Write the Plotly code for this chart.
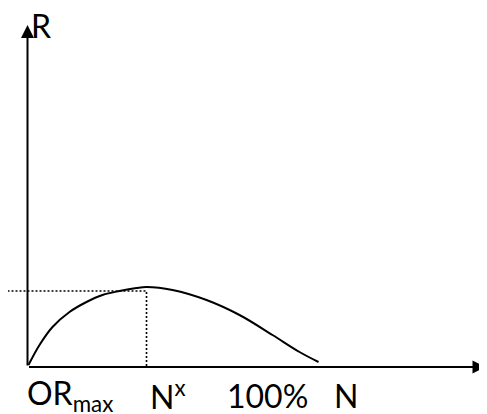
import plotly.graph_objects as go

# Curve R(N) (origin at the axes corner)
curve_n = [1, 12, 25, 42, 59, 75, 92, 109, 119, 145, 179, 212, 245, 272, 291]
curve_r = [2, 22, 40, 55, 65, 72, 76, 79, 80, 77, 67, 52, 32, 15, 5]

# Guide lines to the maximum
peak_n = 119
peak_n_r = 76
guide_start_n = -20

# Axis ends
x_axis_end = 458
y_axis_end = 342

# Labels under the x axis
x_labels = ["OR<sub>max</sub>", "N<sup>x</sup>", "100%", "N"]
x_label_pos = [-3, 120, 197, 304]

fig = go.Figure()

fig.add_trace(go.Scatter(x=curve_n, y=curve_r, mode="lines", line_shape="spline",
                         line=dict(color="black", width=2), showlegend=False))

# dotted guides
fig.add_trace(go.Scatter(x=[guide_start_n, peak_n, peak_n], y=[peak_n_r, peak_n_r, 0], mode="lines",
                         line=dict(color="black", width=1.6, dash="2px,2px"), showlegend=False))

# axes with arrow heads
for tip, tail in [((0, y_axis_end), (0, 0)), ((x_axis_end, 0), (0, 0))]:
    fig.add_annotation(x=tip[0], y=tip[1], ax=tail[0], ay=tail[1], xref="x", yref="y",
                       axref="x", ayref="y", text="", showarrow=True, arrowhead=2,
                       arrowsize=1.3, arrowwidth=2, arrowcolor="black")

fig.add_annotation(x=1, y=342, text="R", showarrow=False, xanchor="left", yanchor="middle",
                   font=dict(size=32))
for lab, pos in zip(x_labels, x_label_pos):
    fig.add_annotation(x=pos, y=-28, text=lab, showarrow=False, xanchor="left",
                       yanchor="middle", font=dict(size=32))

# page body has an 8px margin, so the figure is 8px smaller each way
fig.update_layout(template="simple_white", width=479, height=406,
                  margin=dict(l=0, r=0, t=0, b=0), plot_bgcolor="white",
                  font=dict(family="Lato", color="black"))
fig.update_xaxes(range=[-19.5, 459.5], visible=False)
fig.update_yaxes(range=[-47, 359], visible=False)
fig.write_html("out.html")
